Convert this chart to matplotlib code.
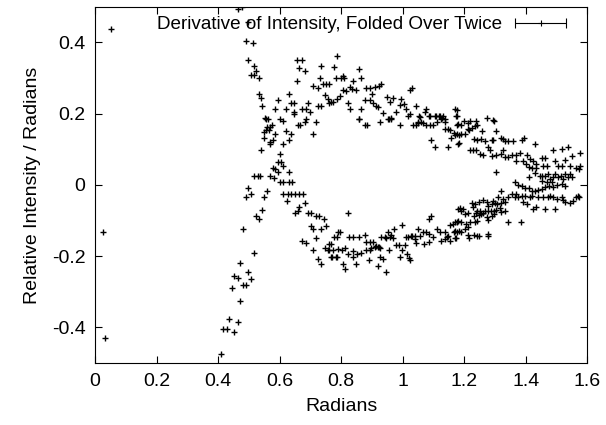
import numpy as np
import matplotlib
matplotlib.use("Agg")
import matplotlib.pyplot as plt
from matplotlib.legend_handler import HandlerErrorbar

# points (radians, relative intensity / radians)
x_left = [0.051, 0.024, 0.032]
y_left = [0.437, -0.131, -0.431]

x_rise = [0.409, 0.417, 0.428, 0.453, 0.434, 0.464, 0.471, 0.445, 0.480, 0.489,
          0.453, 0.464, 0.507, 0.496, 0.471, 0.515, 0.480, 0.523, 0.532, 0.542,
          0.489, 0.507, 0.496, 0.550, 0.558, 0.518, 0.529, 0.536, 0.567, 0.583,
          0.594, 0.578, 0.586, 0.612, 0.594, 0.605, 0.630, 0.602, 0.540, 0.567,
          0.567, 0.578, 0.612, 0.630, 0.550, 0.586, 0.637, 0.621, 0.550, 0.556,
          0.564, 0.558, 0.569, 0.575, 0.554, 0.561, 0.553, 0.602, 0.610, 0.542,
          0.540, 0.534, 0.532, 0.507, 0.518, 0.523, 0.515, 0.496, 0.489, 0.512,
          0.498, 0.464, 0.478]
y_rise = [-0.474, -0.404, -0.404, -0.413, -0.377, -0.385, -0.326, -0.290, -0.281, -0.281,
          -0.255, -0.262, -0.263, -0.246, -0.220, -0.192, -0.124, -0.086, -0.096, -0.070,
          -0.035, -0.025, -0.008, -0.035, -0.018, 0.026, 0.026, 0.026, 0.026, 0.019,
          0.036, 0.047, 0.045, 0.053, 0.064, 0.064, 0.036, 0.087, 0.097, 0.114,
          0.120, 0.125, 0.114, 0.125, 0.132, 0.142, 0.142, 0.151, 0.148, 0.153,
          0.153, 0.163, 0.163, 0.167, 0.186, 0.186, 0.188, 0.186, 0.179, 0.221,
          0.245, 0.254, 0.299, 0.308, 0.308, 0.319, 0.333, 0.352, 0.405, 0.397,
          0.456, 0.494, 0.499]

x_upper = [0.596, 0.586, 0.629, 0.621, 0.637, 0.648, 0.648, 0.648, 0.656, 0.673,
           0.662, 0.683, 0.656, 0.672, 0.686, 0.692, 0.697, 0.686, 0.659, 0.667,
           0.681, 0.717, 0.708, 0.710, 0.724, 0.735, 0.732, 0.740, 0.751, 0.749,
           0.757, 0.726, 0.735, 0.762, 0.773, 0.778, 0.787, 0.787, 0.784, 0.762,
           0.806, 0.800, 0.810, 0.858, 0.866, 0.840, 0.829, 0.836, 0.847, 0.806,
           0.817, 0.795, 0.767, 0.822, 0.829, 0.865, 0.858, 0.858, 0.882, 0.893,
           0.909, 0.922, 0.931, 0.876, 0.895, 0.901, 0.903, 0.914, 0.920, 0.936,
           0.949, 0.958, 0.968, 0.952, 0.963, 0.979, 0.996, 0.992, 1.003, 1.010,
           1.023, 1.031, 1.025, 1.042, 1.055, 1.077, 1.072, 1.088, 1.104, 1.118,
           1.131, 1.126, 1.137, 1.169, 1.173, 1.049, 1.065, 1.175, 1.178, 1.200,
           1.218, 1.237, 1.273, 1.294, 0.876, 0.884, 0.927, 0.955, 0.963, 0.990,
           1.017, 1.034, 1.042, 1.050, 1.061, 1.053, 1.077, 1.088, 1.099, 1.086,
           1.107, 1.120, 1.129, 1.113, 1.137, 1.137, 1.148, 1.153, 1.166, 1.175,
           1.158, 1.178, 1.093, 1.104, 1.148, 1.181]
y_upper = [0.239, 0.212, 0.254, 0.214, 0.230, 0.230, 0.205, 0.200, 0.352, 0.352,
           0.327, 0.319, 0.291, 0.214, 0.214, 0.230, 0.205, 0.186, 0.167, 0.167,
           0.177, 0.177, 0.142, 0.278, 0.272, 0.334, 0.299, 0.282, 0.282, 0.252,
           0.242, 0.221, 0.221, 0.230, 0.233, 0.332, 0.362, 0.242, 0.299, 0.282,
           0.305, 0.300, 0.300, 0.325, 0.299, 0.291, 0.275, 0.268, 0.266, 0.266,
           0.263, 0.250, 0.233, 0.230, 0.212, 0.214, 0.186, 0.184, 0.272, 0.272,
           0.276, 0.279, 0.282, 0.239, 0.237, 0.256, 0.231, 0.222, 0.219, 0.203,
           0.247, 0.233, 0.244, 0.186, 0.188, 0.205, 0.242, 0.223, 0.228, 0.214,
           0.200, 0.272, 0.266, 0.221, 0.191, 0.214, 0.206, 0.193, 0.193, 0.193,
           0.193, 0.186, 0.184, 0.214, 0.193, 0.175, 0.175, 0.209, 0.193, 0.178,
           0.178, 0.178, 0.189, 0.181, 0.167, 0.167, 0.177, 0.184, 0.184, 0.167,
           0.192, 0.167, 0.167, 0.177, 0.177, 0.192, 0.167, 0.167, 0.167, 0.192,
           0.192, 0.192, 0.189, 0.177, 0.177, 0.158, 0.158, 0.153, 0.146, 0.142,
           0.132, 0.167, 0.125, 0.106, 0.106, 0.115]

x_right = [1.181, 1.191, 1.213, 1.211, 1.215, 1.224, 1.235, 1.243, 1.297, 1.258,
           1.305, 1.169, 1.182, 1.191, 1.202, 1.182, 1.232, 1.243, 1.256, 1.269,
           1.289, 1.294, 1.321, 1.327, 1.332, 1.341, 1.359, 1.387, 1.395, 1.430,
           1.218, 1.229, 1.240, 1.251, 1.262, 1.278, 1.283, 1.289, 1.305, 1.321,
           1.327, 1.332, 1.343, 1.354, 1.367, 1.370, 1.381, 1.403, 1.392, 1.400,
           1.414, 1.425, 1.435, 1.410, 1.421, 1.432, 1.452, 1.462, 1.490, 1.517,
           1.538, 1.550, 1.577, 1.457, 1.468, 1.495, 1.506, 1.517, 1.528, 1.544,
           1.544, 1.562, 1.573, 1.577, 1.305, 1.410, 1.430, 1.446, 1.452, 1.463,
           1.454, 1.468, 1.473, 1.479, 1.484, 1.490, 1.495, 1.506, 1.515, 1.528,
           1.522, 1.538, 1.550, 1.476, 1.490, 1.501, 1.517, 1.528, 1.365, 1.376,
           1.387, 1.397, 1.410, 1.419, 1.430, 1.441, 1.454, 1.463, 1.321, 1.370,
           1.365, 1.376, 1.387, 1.397, 1.414, 1.421, 1.441, 1.457, 1.471, 1.479,
           1.490, 1.501, 1.517, 1.522, 1.528, 1.544, 1.555, 1.562, 1.569, 1.573,
           1.392, 1.403, 1.354, 1.341, 1.327, 1.332, 1.311, 1.294, 1.300, 1.308,
           1.321, 1.262, 1.273, 1.278, 1.289, 1.224, 1.235, 1.248, 1.425, 1.435,
           1.463, 1.495, 1.186, 1.197, 1.191, 1.229, 1.237, 1.243, 1.251, 1.262,
           1.269, 1.278, 1.287, 1.297, 1.305, 1.316, 1.321, 1.332, 1.232, 1.248,
           1.256, 1.273, 1.289, 1.297, 1.204, 1.213, 1.341, 1.384, 1.276, 1.169,
           1.181, 1.191, 1.207, 1.218, 1.235, 1.243, 1.169, 1.182, 1.191, 1.202,
           1.211, 1.213, 1.232, 1.248, 1.276, 1.169, 1.215, 1.243, 1.278]
y_right = [0.170, 0.167, 0.174, 0.158, 0.155, 0.161, 0.164, 0.167, 0.179, 0.151,
           0.151, 0.139, 0.139, 0.144, 0.144, 0.118, 0.130, 0.127, 0.130, 0.123,
           0.125, 0.125, 0.132, 0.130, 0.123, 0.123, 0.123, 0.127, 0.132, 0.114,
           0.099, 0.099, 0.097, 0.087, 0.085, 0.106, 0.097, 0.080, 0.083, 0.087,
           0.097, 0.078, 0.078, 0.083, 0.083, 0.068, 0.089, 0.083, 0.068, 0.059,
           0.073, 0.067, 0.059, 0.050, 0.048, 0.048, 0.076, 0.076, 0.097, 0.101,
           0.106, 0.080, 0.089, 0.054, 0.052, 0.068, 0.054, 0.052, 0.070, 0.054,
           0.031, 0.048, 0.045, 0.052, 0.036, 0.022, 0.033, 0.026, 0.026, 0.026,
           0.012, 0.008, 0.031, 0.017, 0.008, 0.022, 0.031, 0.022, 0.026, 0.031,
           0.017, 0.022, 0.023, -0.002, -0.007, 0.001, 0.003, -0.002, 0.008, 0.001,
           -0.002, -0.008, -0.008, -0.018, -0.016, -0.014, -0.011, -0.005, -0.016, -0.025,
           -0.035, -0.033, -0.030, -0.030, -0.033, -0.030, -0.035, -0.033, -0.033, -0.030,
           -0.033, -0.039, -0.035, -0.042, -0.049, -0.052, -0.046, -0.035, -0.030, -0.035,
           -0.049, -0.055, -0.025, -0.035, -0.039, -0.049, -0.033, -0.044, -0.052, -0.055,
           -0.052, -0.042, -0.049, -0.058, -0.054, -0.052, -0.054, -0.049, -0.068, -0.061,
           -0.068, -0.068, -0.065, -0.068, -0.072, -0.063, -0.080, -0.074, -0.072, -0.080,
           -0.072, -0.074, -0.074, -0.072, -0.070, -0.065, -0.077, -0.074, -0.086, -0.084,
           -0.082, -0.091, -0.086, -0.082, -0.082, -0.080, -0.105, -0.105, -0.100, -0.105,
           -0.102, -0.105, -0.110, -0.105, -0.105, -0.102, -0.129, -0.129, -0.131, -0.124,
           -0.119, -0.140, -0.140, -0.143, -0.138, -0.149, -0.149, -0.143, -0.143]

x_lower = [0.612, 0.626, 0.637, 0.651, 0.664, 0.675, 0.623, 0.683, 0.664, 0.659,
           0.651, 0.692, 0.702, 0.717, 0.727, 0.743, 0.751, 0.702, 0.708, 0.735,
           0.789, 0.717, 0.602, 0.611, 0.629, 0.640, 0.822, 1.093, 1.086, 1.181,
           1.153, 1.164, 1.175, 0.998, 0.972, 1.050, 0.797, 0.778, 0.786, 0.827,
           0.840, 0.858, 0.876, 0.931, 0.941, 0.952, 0.963, 1.010, 1.028, 1.039,
           1.055, 1.066, 1.077, 1.086, 1.099, 1.112, 1.120, 1.137, 1.148, 1.166,
           1.177, 0.768, 0.882, 0.893, 0.903, 0.914, 0.923, 0.945, 0.958, 0.968,
           0.979, 0.988, 1.007, 1.017, 1.031, 1.039, 1.042, 1.068, 1.086, 1.126,
           1.137, 1.144, 1.153, 1.173, 0.762, 0.775, 0.789, 0.803, 0.811, 0.822,
           0.838, 0.840, 0.851, 0.865, 0.768, 0.786, 0.806, 0.814, 0.849, 0.882,
           0.893, 0.898, 0.909, 0.920, 0.925, 0.890, 0.920, 0.927, 0.936, 0.945,
           0.955, 0.990, 0.999, 1.014, 1.021, 1.025, 0.673, 0.684, 0.708, 0.746,
           0.757, 0.760, 0.724, 0.735, 0.771, 0.784]
y_lower = [-0.027, -0.027, -0.027, -0.027, -0.027, -0.027, -0.044, -0.052, -0.063, -0.072,
           -0.079, -0.079, -0.079, -0.086, -0.086, -0.096, -0.115, -0.115, -0.124, -0.124,
           -0.133, -0.149, 0.008, 0.008, 0.008, 0.008, -0.079, -0.086, -0.096, -0.068,
           -0.112, -0.110, -0.105, -0.112, -0.124, -0.124, -0.131, -0.147, -0.147, -0.147,
           -0.147, -0.147, -0.140, -0.147, -0.147, -0.133, -0.140, -0.147, -0.143, -0.143,
           -0.143, -0.133, -0.133, -0.138, -0.147, -0.124, -0.133, -0.133, -0.143, -0.131,
           -0.131, -0.166, -0.159, -0.159, -0.159, -0.171, -0.174, -0.149, -0.146, -0.149,
           -0.168, -0.168, -0.168, -0.146, -0.143, -0.152, -0.164, -0.166, -0.159, -0.157,
           -0.152, -0.147, -0.157, -0.149, -0.183, -0.183, -0.180, -0.183, -0.176, -0.194,
           -0.187, -0.202, -0.194, -0.192, -0.202, -0.202, -0.221, -0.237, -0.221, -0.183,
           -0.183, -0.176, -0.174, -0.174, -0.177, -0.211, -0.227, -0.202, -0.208, -0.246,
           -0.183, -0.202, -0.183, -0.194, -0.204, -0.211, -0.157, -0.164, -0.183, -0.177,
           -0.183, -0.166, -0.208, -0.221, -0.202, -0.202]

xs = x_left + x_rise + x_upper + x_right + x_lower
ys = y_left + y_rise + y_upper + y_right + y_lower

xticks = [0, 0.2, 0.4, 0.6, 0.8, 1.0, 1.2, 1.4, 1.6]
xticklabels = ["0", "0.2", "0.4", "0.6", "0.8", "1", "1.2", "1.4", "1.6"]
yticks = [-0.4, -0.2, 0, 0.2, 0.4]
yticklabels = ["-0.4", "-0.2", "0", "0.2", "0.4"]

plt.rcParams["font.family"] = ["Liberation Sans", "DejaVu Sans"]
plt.rcParams["font.size"] = 14

fig = plt.figure(figsize=(6.06, 4.25), dpi=100)
ax = fig.add_axes([0.157, 0.146, 0.812, 0.838])

ax.plot(xs, ys, linestyle="none", marker="+", markersize=5,
        markeredgewidth=1.0, color="black")

# legend sample in gnuplot's xerrorbars style
eb = ax.errorbar([np.nan], [np.nan], xerr=[np.nan], fmt="+", color="black",
                 markersize=5, markeredgewidth=0.8, elinewidth=0.8,
                 capsize=3.5, capthick=0.8)
ax.legend([eb], ["Derivative of Intensity, Folded Over Twice"], loc="upper right",
          bbox_to_anchor=(0.98, 1.0), frameon=False, markerfirst=False,
          handlelength=2.9, handletextpad=0.6, borderaxespad=0.2, borderpad=0.3,
          fontsize=13.6, handler_map={type(eb): HandlerErrorbar(xerr_size=1.35)})

ax.set_xlim(0, 1.6)
ax.set_ylim(-0.5, 0.5)
ax.set_xticks(xticks)
ax.set_xticklabels(xticklabels)
ax.set_yticks(yticks)
ax.set_yticklabels(yticklabels)
ax.tick_params(direction="in", top=True, right=True, length=5, width=0.8, pad=7)
ax.set_xlabel("Radians", labelpad=6)
ax.set_ylabel("Relative Intensity / Radians", labelpad=8)
for s in ax.spines.values():
    s.set_linewidth(0.8)

fig.savefig("out.png", dpi=100)
